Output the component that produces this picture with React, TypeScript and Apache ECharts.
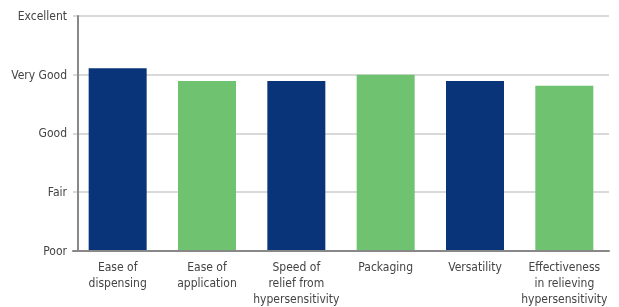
import React, { useEffect, useRef } from "react";
import * as echarts from "echarts";

const categories = [
  "Ease of\ndispensing",
  "Ease of\napplication",
  "Speed of\nrelief from\nhypersensitivity",
  "Packaging",
  "Versatility",
  "Effectiveness\nin relieving\nhypersensitivity",
];
const ratings = [4.11, 3.89, 3.89, 4.0, 3.89, 3.81];
const barColors = ["#0a347a", "#6fc270", "#0a347a", "#6fc270", "#0a347a", "#6fc270"];
const tickLabels: Record<number, string> = {
  1: "Poor",
  2: "Fair",
  3: "Good",
  4: "Very Good",
  5: "Excellent",
};

const FONT = "'Liberation Sans Narrow', 'DejaVu Sans Condensed', 'Roboto', sans-serif";

export default function App() {
  const ref = useRef<HTMLDivElement>(null);
  useEffect(() => {
    if (!ref.current) return;
    const chart = echarts.init(ref.current, null, { renderer: "svg" });
    chart.setOption({
      animation: false,
      grid: {
        left: 73,
        right: 10,
        top: 16,
        bottom: 56.5,
        containLabel: false,
        outerBoundsMode: "none",
      },
      xAxis: {
        type: "category",
        data: categories,
        axisLine: { lineStyle: { color: "#888", width: 2 } },
        axisTick: { show: false },
        axisLabel: {
          color: "#444",
          fontFamily: FONT,
          fontSize: 12,
          lineHeight: 16,
          margin: 8,
          interval: 0,
        },
        z: 5,
      },
      yAxis: {
        type: "value",
        min: 1,
        max: 5,
        interval: 1,
        offset: -5,
        axisLine: { show: true, lineStyle: { color: "#888", width: 2 } },
        axisTick: { show: false },
        splitLine: { lineStyle: { color: "#cccccc", width: 1.5 } },
        axisLabel: {
          color: "#444",
          fontFamily: FONT,
          fontSize: 12,
          margin: 11,
          formatter: (v: number) => tickLabels[v] ?? "",
        },
      },
      series: [
        {
          type: "bar",
          data: ratings.map((v, i) => ({ value: v, itemStyle: { color: barColors[i] } })),
          barWidth: 58,
        },
      ],
    });
    return () => chart.dispose();
  }, []);
  return (
    <div
      ref={ref}
      style={{ position: "fixed", left: 0, top: 0, width: 619, height: 307 }}
    />
  );
}
